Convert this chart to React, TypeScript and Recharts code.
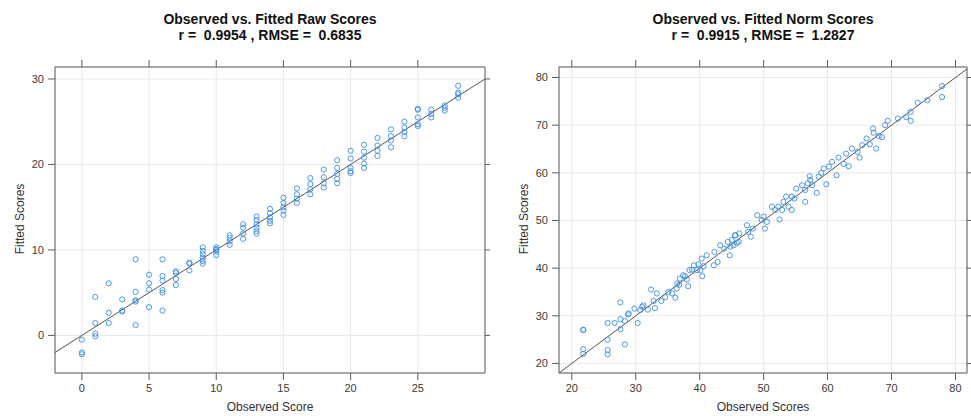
import React from "react";
import {
  ScatterChart,
  Scatter,
  XAxis,
  YAxis,
  CartesianGrid,
  ReferenceLine,
} from "recharts";

// Raw scores: observed integer scores and the fitted values read for each
const rawScores = [0, 1, 2, 3, 4, 5, 6, 7, 8, 9, 10, 11, 12, 13, 14, 15, 16, 17, 18, 19, 20, 21, 22, 23, 24, 25, 26, 27, 28];
const rawFitted = [
  [-0.5, -2.0, -2.2],
  [4.5, 1.45, 0.2, -0.1],
  [6.1, 2.65, 1.45],
  [4.2, 2.8, 2.9],
  [8.9, 5.1, 4.1, 3.95, 1.2],
  [7.1, 6.1, 5.35, 3.3],
  [8.9, 6.95, 6.4, 5.3, 5.0, 2.9],
  [7.5, 7.3, 6.6, 5.9],
  [8.5, 8.4, 7.6],
  [10.3, 9.9, 9.5, 9.1, 8.7, 8.4],
  [10.3, 10.1, 10.0, 9.8, 9.4],
  [11.7, 11.4, 11.0, 10.6],
  [13.0, 12.6, 11.9, 11.3],
  [13.9, 13.5, 13.0, 12.6, 12.2, 11.9],
  [14.8, 14.3, 13.8, 13.4, 13.1],
  [16.1, 15.5, 15.0, 14.6, 14.1],
  [17.2, 16.5, 16.0, 15.5],
  [18.4, 17.7, 17.1, 16.5],
  [19.4, 18.5, 17.8, 17.3],
  [20.5, 19.6, 18.9, 18.3, 17.8],
  [21.6, 20.7, 19.6, 19.2, 19.0],
  [22.3, 21.5, 20.8, 20.1, 19.6],
  [23.1, 22.2, 21.6, 21.0],
  [24.1, 23.3, 22.8, 22.0],
  [25.0, 24.3, 23.8, 23.3],
  [26.5, 26.4, 25.5, 24.7, 24.5],
  [26.4, 25.9, 25.5],
  [26.9, 26.6, 26.3],
  [29.2, 28.4, 28.2, 27.8],
];

// Norm scores: observed / fitted pairs
const normObserved = [
  21.8, 21.8, 21.8, 21.8, 25.6, 25.6, 25.6, 25.6, 26.7, 27.6, 27.6, 27.6, 28.3, 28.3, 28.8, 28.9,
  29.8, 30.3, 30.7, 31.0, 31.2, 31.9, 32.4, 32.8, 33.0, 33.3, 34.0, 34.6, 35.1, 35.7, 36.2, 36.4,
  36.5, 36.8, 36.9, 37.4, 37.7, 38.0, 38.2, 38.4, 38.8, 39.1, 39.6, 39.8, 40.1, 40.4, 40.6, 40.3,
  41.1, 42.2, 42.3, 42.8, 43.2, 43.8, 44.4, 44.7, 44.8, 45.0, 45.3, 45.5, 45.6, 45.8, 46.1, 46.2,
  47.4, 47.6, 48.0, 48.3, 49.0, 49.7, 50.0, 50.2, 50.5, 51.3, 51.8, 52.3, 52.5, 52.9, 53.1, 53.5,
  53.9, 54.4, 54.4, 54.8, 55.1, 56.0, 56.5, 56.5, 56.9, 57.3, 57.2, 57.6, 58.3, 58.6, 59.0, 59.4,
  59.8, 60.2, 60.7, 61.4, 61.7, 62.5, 62.9, 63.3, 63.8, 64.7, 65.0, 65.4, 66.1, 66.6, 67.1, 67.2,
  67.6, 68.0, 68.5, 69.0, 69.4, 71.0, 72.3, 73.0, 73.0, 74.1, 75.6, 77.9, 77.9,
];
const normFitted = [
  27.0, 27.1, 23.0, 22.0, 28.5, 25.0, 22.8, 21.9, 28.5, 32.8, 29.3, 27.2, 24.0, 28.9, 30.3, 30.5,
  31.5, 28.5, 31.2, 31.9, 32.2, 31.3, 35.5, 33.1, 31.6, 34.7, 33.1, 33.9, 35.0, 34.7, 33.8, 35.7,
  36.8, 36.5, 37.8, 38.5, 38.3, 37.6, 36.2, 39.6, 39.7, 40.6, 39.6, 40.8, 39.5, 38.3, 40.4, 42.0,
  42.7, 40.6, 43.4, 41.3, 44.8, 44.1, 45.5, 42.7, 44.5, 45.9, 44.8, 46.9, 46.9, 45.3, 45.5, 47.3,
  49.0, 47.6, 46.6, 48.3, 51.1, 50.1, 50.8, 48.3, 49.7, 52.9, 52.2, 52.9, 50.2, 52.2, 53.9, 55.0,
  52.9, 55.0, 52.2, 54.6, 56.7, 57.4, 53.9, 56.4, 57.8, 58.5, 59.3, 57.4, 55.8, 59.2, 60.0, 60.9,
  57.6, 61.3, 62.3, 59.5, 63.2, 61.9, 64.0, 61.4, 65.1, 64.4, 63.2, 65.8, 67.2, 66.0, 69.3, 68.4,
  65.1, 67.7, 67.5, 70.0, 70.9, 71.4, 71.7, 72.8, 70.9, 74.7, 75.2, 78.2, 75.9,
];

// Axis ranges and ticks
const rawXDomain = [-2, 30];
const rawYDomain = [-4.4, 31.4];
const rawXTicks = [0, 5, 10, 15, 20, 25];
const rawYTicks = [0, 10, 20, 30];
const normXDomain = [18, 81.8];
const normYDomain = [18, 82.2];
const normXTicks = [20, 30, 40, 50, 60, 70, 80];
const normYTicks = [20, 30, 40, 50, 60, 70, 80];

const rawData = rawScores.flatMap((s, i) => rawFitted[i].map((f) => ({ obs: s, fit: f })));
const normData = normObserved.map((o, i) => ({ obs: o, fit: normFitted[i] }));

const FONT = "'Liberation Sans', Arial, sans-serif";
const AXIS = "#56605a";
const POINT = "#3b8de6";
const tickStyle = { fontSize: 11, fill: "#3a3a3a", fontFamily: FONT };

const Ring = (p: any) => (
  <circle cx={p.cx} cy={p.cy} r={2.6} fill="none" stroke={POINT} strokeWidth={0.9} />
);

// tick marks only, no labels (lattice-style top/right axes)
const NoLabel = () => <g />;

interface PanelProps {
  left: number;
  width: number;
  plotLeft: number;
  plotRight: number;
  data: { obs: number; fit: number }[];
  xDomain: number[];
  yDomain: number[];
  xTicks: number[];
  yTicks: number[];
  title: string;
  subtitle: string;
  xLabel: string;
}

const HEIGHT = 416;
const PLOT_TOP = 67;
const PLOT_BOTTOM = 373;

function Panel(p: PanelProps) {
  const leftAxisW = 30;
  const bottomAxisH = 30;
  const topAxisH = 7;
  const rightAxisW = p.width - p.plotRight;
  const plotCenterX = (p.plotLeft + p.plotRight) / 2;
  const lo = Math.max(p.xDomain[0], p.yDomain[0]);
  const hi = Math.min(p.xDomain[1], p.yDomain[1]);
  return (
    <div style={{ position: "absolute", left: p.left, top: 0, width: p.width, height: HEIGHT }}>
      <div
        style={{
          position: "absolute",
          left: plotCenterX - 200,
          width: 400,
          top: 11,
          textAlign: "center",
          fontFamily: FONT,
          fontWeight: "bold",
          fontSize: 14,
          lineHeight: "16px",
          color: "#111",
          whiteSpace: "pre",
        }}
      >
        {p.title}
        {"\n"}
        {p.subtitle}
      </div>
      <ScatterChart
        width={p.width}
        height={HEIGHT}
        margin={{
          top: PLOT_TOP - topAxisH,
          right: 0,
          bottom: HEIGHT - PLOT_BOTTOM - bottomAxisH,
          left: p.plotLeft - leftAxisW,
        }}
      >
        <CartesianGrid xAxisId="b" yAxisId="l" stroke="#e9e9e9" />
        <XAxis
          xAxisId="b"
          type="number"
          dataKey="obs"
          domain={p.xDomain}
          ticks={p.xTicks}
          allowDataOverflow
          height={bottomAxisH}
          tickSize={7}
          tickMargin={4}
          stroke={AXIS}
          tick={tickStyle}
        />
        <XAxis
          xAxisId="t"
          type="number"
          orientation="top"
          dataKey="obs"
          domain={p.xDomain}
          ticks={p.xTicks}
          allowDataOverflow
          height={topAxisH}
          tickSize={7}
          stroke={AXIS}
          tick={NoLabel}
        />
        <YAxis
          yAxisId="l"
          type="number"
          dataKey="fit"
          domain={p.yDomain}
          ticks={p.yTicks}
          allowDataOverflow
          width={leftAxisW}
          tickSize={7}
          tickMargin={4}
          stroke={AXIS}
          tick={tickStyle}
        />
        <YAxis
          yAxisId="r"
          type="number"
          orientation="right"
          dataKey="fit"
          domain={p.yDomain}
          ticks={p.yTicks}
          allowDataOverflow
          width={rightAxisW}
          tickSize={7}
          stroke={AXIS}
          tick={NoLabel}
        />
        <ReferenceLine
          xAxisId="b"
          yAxisId="l"
          segment={[
            { x: lo, y: lo },
            { x: hi, y: hi },
          ]}
          stroke="#555"
          strokeWidth={1}
          ifOverflow="hidden"
        />
        <Scatter
          xAxisId="b"
          yAxisId="l"
          data={p.data}
          shape={Ring}
          isAnimationActive={false}
        />
      </ScatterChart>
      <div
        style={{
          position: "absolute",
          left: plotCenterX - 100,
          width: 200,
          top: 400,
          textAlign: "center",
          fontFamily: FONT,
          fontSize: 12,
          color: "#333",
        }}
      >
        {p.xLabel}
      </div>
      <div
        style={{
          position: "absolute",
          left: p.plotLeft - 35 - 100,
          width: 200,
          top: (PLOT_TOP + PLOT_BOTTOM) / 2 - 8,
          textAlign: "center",
          fontFamily: FONT,
          fontSize: 12,
          color: "#333",
          transform: "rotate(-90deg)",
        }}
      >
        Fitted Scores
      </div>
    </div>
  );
}

export default function App() {
  return (
    <div style={{ position: "absolute", left: 0, top: 0, width: 971, height: 416, background: "#fff" }}>
      <Panel
        left={0}
        width={490}
        plotLeft={55}
        plotRight={485}
        data={rawData}
        xDomain={rawXDomain}
        yDomain={rawYDomain}
        xTicks={rawXTicks}
        yTicks={rawYTicks}
        title="Observed vs. Fitted Raw Scores"
        subtitle="r =  0.9954 , RMSE =  0.6835"
        xLabel="Observed Score"
      />
      <Panel
        left={490}
        width={481}
        plotLeft={69}
        plotRight={477}
        data={normData}
        xDomain={normXDomain}
        yDomain={normYDomain}
        xTicks={normXTicks}
        yTicks={normYTicks}
        title="Observed vs. Fitted Norm Scores"
        subtitle="r =  0.9915 , RMSE =  1.2827"
        xLabel="Observed Scores"
      />
    </div>
  );
}
